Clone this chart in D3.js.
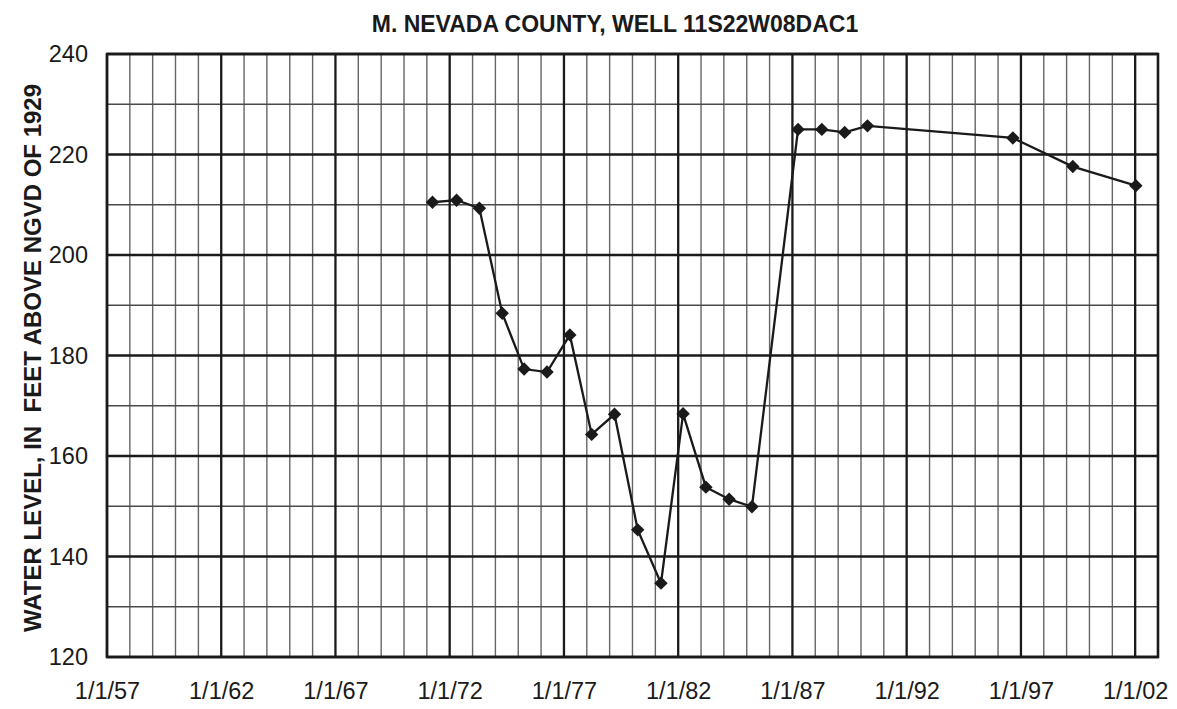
<!DOCTYPE html>
<html lang="en">
<head>
    <meta charset="UTF-8">
    <title>Well 11S22W08DAC1</title>
    <script src="https://d3js.org/d3.v7.min.js"></script>
    <style type="text/css">
        body { margin: 0; background: #fff; }
        text { font-family: "Liberation Sans", Arial, sans-serif; }
    </style>
</head>
    <body>
        <script type="text/javascript">

        //Width and height
        var w = 1177;
        var h = 709;
        var margin = {top: 54, right: 19, bottom: 52, left: 107};

        //Measurement dates and water levels (feet above NGVD 1929)
        var dates = ["1971-04-01", "1972-04-20", "1973-04-20", "1974-04-20", "1975-04-05",
                     "1976-04-05", "1977-04-05", "1978-03-20", "1979-03-20", "1980-03-25",
                     "1981-04-01", "1982-03-20", "1983-03-20", "1984-03-25", "1985-03-25",
                     "1987-04-01", "1988-04-15", "1989-04-15", "1990-04-15", "1996-08-25",
                     "1999-04-10", "2002-01-12"];
        var levels = [210.5, 210.9, 209.3, 188.4, 177.3,
                      176.7, 184.1, 164.3, 168.3, 145.3,
                      134.7, 168.4, 153.8, 151.4, 149.9,
                      225.0, 225.0, 224.4, 225.7, 223.3,
                      217.6, 213.8];

        //Tick labels
        var xTickYears = [1957, 1962, 1967, 1972, 1977, 1982, 1987, 1992, 1997, 2002];
        var yTicks = [120, 140, 160, 180, 200, 220, 240];

        var parseDate = d3.timeParse("%Y-%m-%d");
        var dataset = dates.map(function(d, i) {
            return {date: parseDate(d), level: levels[i]};
        });

        var xScale = d3.scaleTime()
            .domain([new Date(1957, 0, 1), new Date(2003, 0, 1)])
            .range([margin.left, w - margin.right]);

        var yScale = d3.scaleLinear()
            .domain([120, 240])
            .range([h - margin.bottom, margin.top]);

        var svg = d3.select("body")
            .append("svg")
            .attr("width", w)
            .attr("height", h);

        var x0 = margin.left, x1 = w - margin.right;
        var y0 = margin.top, y1 = h - margin.bottom;

        //Minor vertical grid (every year)
        var minorYears = d3.range(1958, 2003).filter(function(y) { return (y - 1957) % 5 !== 0; });
        svg.append("g")
            .selectAll("line")
            .data(minorYears)
            .enter()
            .append("line")
            .attr("x1", function(d) { return xScale(new Date(d, 0, 1)); })
            .attr("x2", function(d) { return xScale(new Date(d, 0, 1)); })
            .attr("y1", y0)
            .attr("y2", y1)
            .attr("stroke", "#666")
            .attr("stroke-width", 1.4);

        //Minor horizontal grid (every 10 ft)
        svg.append("g")
            .selectAll("line")
            .data([130, 150, 170, 190, 210, 230])
            .enter()
            .append("line")
            .attr("x1", x0)
            .attr("x2", x1)
            .attr("y1", function(d) { return yScale(d); })
            .attr("y2", function(d) { return yScale(d); })
            .attr("stroke", "#4a4a4a")
            .attr("stroke-width", 1.4);

        //Major vertical grid (every 5 years)
        svg.append("g")
            .selectAll("line")
            .data(xTickYears)
            .enter()
            .append("line")
            .attr("x1", function(d) { return xScale(new Date(d, 0, 1)); })
            .attr("x2", function(d) { return xScale(new Date(d, 0, 1)); })
            .attr("y1", y0)
            .attr("y2", y1)
            .attr("stroke", "#1a1a1a")
            .attr("stroke-width", 2.3);

        //Major horizontal grid
        svg.append("g")
            .selectAll("line")
            .data(yTicks)
            .enter()
            .append("line")
            .attr("x1", x0)
            .attr("x2", x1)
            .attr("y1", function(d) { return yScale(d); })
            .attr("y2", function(d) { return yScale(d); })
            .attr("stroke", "#1a1a1a")
            .attr("stroke-width", 2.3);

        //Frame
        svg.append("rect")
            .attr("x", x0)
            .attr("y", y0)
            .attr("width", x1 - x0)
            .attr("height", y1 - y0)
            .attr("fill", "none")
            .attr("stroke", "#1a1a1a")
            .attr("stroke-width", 2.6);

        //Axes labels
        var xAxis = d3.axisBottom(xScale)
            .tickValues(xTickYears.map(function(y) { return new Date(y, 0, 1); }))
            .tickFormat(d3.timeFormat("%-m/%-d/%y"))
            .tickSize(0)
            .tickPadding(25);
        var gx = svg.append("g")
            .attr("transform", "translate(0," + y1 + ")")
            .call(xAxis);
        gx.select(".domain").remove();
        gx.selectAll("text")
            .attr("font-size", "23.5px")
            .attr("font-family", "Liberation Sans, Arial, sans-serif")
            .attr("fill", "#1a1a1a");

        var yAxis = d3.axisLeft(yScale)
            .tickValues(yTicks)
            .tickSize(0)
            .tickPadding(19);
        var gy = svg.append("g")
            .attr("transform", "translate(" + x0 + ",0)")
            .call(yAxis);
        gy.select(".domain").remove();
        gy.selectAll("text")
            .attr("font-size", "23.5px")
            .attr("font-family", "Liberation Sans, Arial, sans-serif")
            .attr("fill", "#1a1a1a");

        //Title
        svg.append("text")
            .attr("x", 615)
            .attr("y", 32)
            .attr("text-anchor", "middle")
            .attr("font-size", "23px")
            .attr("font-weight", "bold")
            .attr("fill", "#1a1a1a")
            .text("M. NEVADA COUNTY, WELL 11S22W08DAC1");

        //Y axis title
        svg.append("text")
            .attr("transform", "translate(41,358) rotate(-90)")
            .attr("text-anchor", "middle")
            .attr("font-size", "24px")
            .attr("font-weight", "bold")
            .attr("fill", "#1a1a1a")
            .attr("xml:space", "preserve")
            .text("WATER LEVEL, IN  FEET ABOVE NGVD OF 1929");

        //Line
        var line = d3.line()
            .x(function(d) { return xScale(d.date); })
            .y(function(d) { return yScale(d.level); });

        svg.append("path")
            .datum(dataset)
            .attr("d", line)
            .attr("fill", "none")
            .attr("stroke", "#1a1a1a")
            .attr("stroke-width", 2.3);

        //Diamond markers
        var diamond = d3.symbol().type(d3.symbolDiamond2).size(115);
        svg.selectAll("path.marker")
            .data(dataset)
            .enter()
            .append("path")
            .attr("class", "marker")
            .attr("d", diamond)
            .attr("transform", function(d) {
                return "translate(" + xScale(d.date) + "," + yScale(d.level) + ")";
            })
            .attr("fill", "#1a1a1a");

        </script>
    </body>
</html>
